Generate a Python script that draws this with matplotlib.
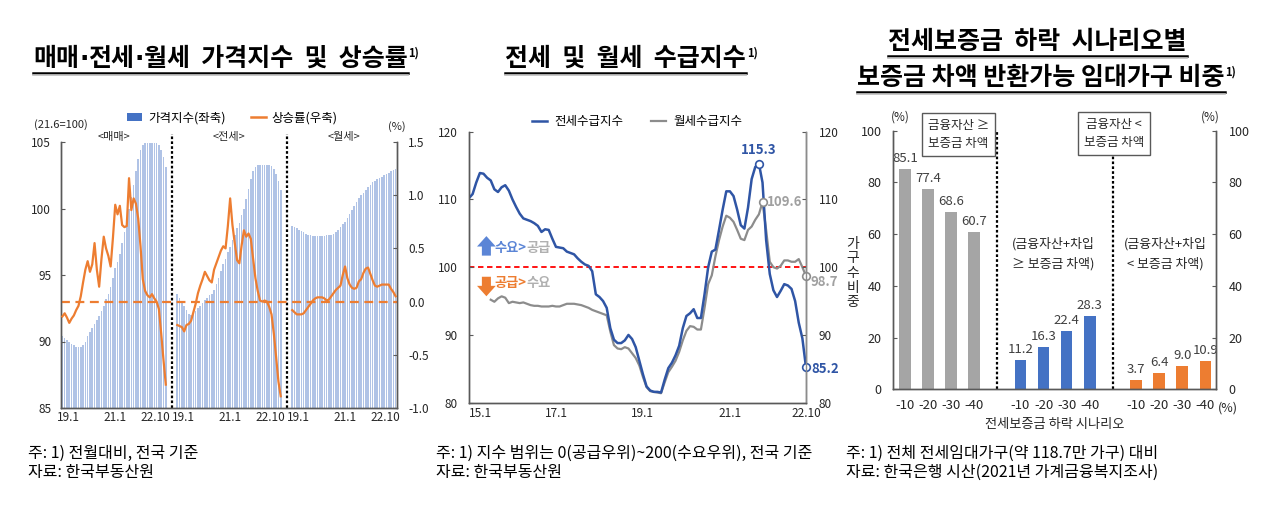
import numpy as np
import matplotlib
matplotlib.use('Agg')
import matplotlib.pyplot as plt
import matplotlib.transforms as mtransforms
from matplotlib.lines import Line2D
from matplotlib.patches import Patch
from matplotlib.ticker import FormatStrFormatter

plt.rcParams['font.family'] = ['Noto Sans CJK KR', 'DejaVu Sans']
plt.rcParams['axes.unicode_minus'] = False

# ---- panel 1 : 19.1 ~ 22.10 monthly, 21.6=100 ----
section_names = ['<매매>', '<전세>', '<월세>']
p1_tick_labels = ['19.1', '21.1', '22.10']
p1_tick_pos = [2.5, 23, 40.5]

sale_idx = [90.4, 90.3, 90.1, 90.0, 89.8, 89.7, 89.6, 89.6, 89.6, 89.7, 90.0, 90.4,
            90.7, 91.0, 91.3, 91.6, 91.9, 92.3, 92.7, 93.2, 93.6, 94.1, 94.8, 95.5,
            96.0, 96.6, 97.4, 98.2, 99.0, 100.0, 100.9, 101.8, 102.8, 103.7, 104.4, 104.8,
            104.9, 104.9, 104.9, 104.9, 104.9, 104.9, 104.8, 104.4, 103.9, 103.1]
sale_rate = [-0.14, -0.11, -0.15, -0.20, -0.16, -0.13, -0.08, -0.04, 0.05, 0.18, 0.30, 0.38,
             0.28, 0.35, 0.55, 0.30, 0.14, 0.40, 0.61, 0.50, 0.43, 0.33, 0.60, 0.91,
             0.82, 0.90, 0.72, 0.70, 0.71, 1.16, 0.86, 0.97, 0.92, 0.78, 0.52, 0.21,
             0.10, 0.06, 0.04, 0.07, 0.03, 0.00, -0.07, -0.30, -0.55, -0.78]
jeonse_idx = [93.6, 93.3, 93.0, 92.7, 92.4, 92.1, 92.0, 92.1, 92.3, 92.5, 92.7, 92.9,
              93.1, 93.3, 93.5, 93.6, 93.9, 94.3, 94.8, 95.3, 95.8, 96.2, 96.7, 97.1,
              97.6, 98.0, 98.5, 98.9, 99.5, 100.0, 100.7, 101.5, 102.2, 102.8, 103.1, 103.3,
              103.3, 103.3, 103.3, 103.3, 103.3, 103.2, 103.0, 102.6, 102.1, 101.4]
jeonse_rate = [-0.22, -0.23, -0.24, -0.28, -0.22, -0.21, -0.18, -0.10, -0.02, 0.08, 0.15, 0.21,
               0.28, 0.24, 0.20, 0.18, 0.30, 0.36, 0.42, 0.48, 0.52, 0.50, 0.71, 0.97,
               0.72, 0.55, 0.39, 0.36, 0.53, 0.67, 0.61, 0.64, 0.59, 0.40, 0.22, 0.10,
               0.01, 0.00, 0.01, 0.00, -0.05, -0.12, -0.30, -0.52, -0.75, -0.89]
wolse_idx = [98.7, 98.6, 98.5, 98.4, 98.3, 98.2, 98.1, 98.0, 98.0, 97.9, 97.9, 97.9,
             97.9, 97.9, 97.9, 98.0, 98.0, 98.0, 98.1, 98.2, 98.4, 98.6, 98.8, 99.0,
             99.3, 99.6, 99.9, 100.2, 100.5, 100.8, 101.0, 101.2, 101.4, 101.6, 101.8, 102.0,
             102.1, 102.2, 102.3, 102.4, 102.5, 102.6, 102.7, 102.8, 102.9, 103.0]
wolse_rate = [-0.08, -0.10, -0.12, -0.12, -0.12, -0.11, -0.08, -0.05, -0.02, 0.01, 0.03, 0.04,
              0.04, 0.04, 0.03, 0.01, 0.02, 0.05, 0.08, 0.11, 0.13, 0.15, 0.25, 0.33,
              0.22, 0.16, 0.13, 0.12, 0.13, 0.19, 0.21, 0.27, 0.31, 0.32, 0.26, 0.20,
              0.15, 0.14, 0.15, 0.16, 0.16, 0.16, 0.16, 0.12, 0.09, 0.05]

# ---- panel 2 : 15.1 ~ 22.10 monthly ----
p2_tick_labels = ['15.1', '17.1', '19.1', '21.1', '22.10']
p2_tick_pos = [0, 24, 48, 72, 93]
jeonse_sd = [110.2, 110.8, 112.5, 113.9, 113.8, 113.2, 112.8, 111.5, 111.1, 111.8, 112.1, 111.3,
             110.0, 108.9, 107.9, 107.2, 107.0, 106.8, 106.5, 106.1, 105.2, 105.6, 105.5, 104.2,
             103.0, 102.9, 102.8, 102.3, 102.1, 101.9, 101.3, 100.8, 100.4, 100.2, 99.4, 96.0,
             95.6, 95.0, 94.0, 91.0, 89.3, 88.8, 88.8, 89.2, 90.0, 89.4, 88.2, 86.2,
             84.2, 82.4, 81.8, 81.6, 81.6, 81.5, 83.4, 85.1, 85.9, 87.0, 88.4, 91.0,
             92.8, 93.2, 93.8, 92.5, 92.5, 96.0, 100.0, 102.3, 102.6, 105.5, 108.5, 111.2,
             111.2, 110.5, 108.5, 106.2, 105.7, 108.8, 113.0, 114.8, 115.3, 112.5, 104.0, 99.0,
             96.6, 95.6, 96.5, 97.5, 97.3, 96.8, 95.0, 91.8, 89.5, 85.2]
wolse_sd_start = 6
wolse_sd = [95.2, 94.9, 95.4, 95.7, 95.5, 94.7, 94.9, 94.8, 94.7, 94.8, 94.6, 94.4,
            94.3, 94.3, 94.2, 94.2, 94.2, 94.3, 94.2, 94.2, 94.4, 94.6, 94.6, 94.6,
            94.5, 94.4, 94.2, 94.0, 93.7, 93.5, 93.3, 93.1, 92.9, 90.5, 88.5, 88.0,
            87.9, 88.2, 88.0, 87.3, 86.6, 85.5, 83.8, 82.3, 81.7, 81.6, 81.5, 81.4,
            83.0, 84.5, 85.3, 86.2, 87.5, 89.2, 90.6, 91.3, 91.2, 90.8, 90.8, 94.0,
            97.5, 98.8, 101.6, 104.0, 106.0, 107.6, 107.3, 106.7, 105.5, 104.2, 104.0, 105.5,
            106.0, 107.0, 107.8, 109.6, 105.5, 100.8, 100.0, 99.8, 100.2, 101.0, 101.0, 100.8,
            100.8, 101.2, 100.0, 98.7]

# ---- panel 3 ----
scenario_labels = ['-10', '-20', '-30', '-40']
share_asset = [85.1, 77.4, 68.6, 60.7]
share_borrow = [11.2, 16.3, 22.4, 28.3]
share_short = [3.7, 6.4, 9.0, 10.9]

BLUE = '#4472C4'
ORANGE = '#ED7D31'
GRAY_BAR = '#A5A5A5'
LINE_BLUE = '#2F55A5'
LINE_GRAY = '#8C8C8C'
TXT = '#262626'
SPINE = '#595959'

W, H = 1280, 523
fig = plt.figure(figsize=(W / 100, H / 100), dpi=100)
renderer = fig.canvas.get_renderer()


def px_axes(left, top, right, bottom):
    return fig.add_axes([left / W, 1 - bottom / H, (right - left) / W, (bottom - top) / H])


def style_axes(ax):
    ax.spines['top'].set_visible(False)
    for s in ('left', 'right', 'bottom'):
        ax.spines[s].set_color(SPINE)
        ax.spines[s].set_linewidth(1.0)
    ax.tick_params(axis='both', direction='in', length=3, color=SPINE, labelcolor=TXT, labelsize=8.5)
    ax.tick_params(axis='x', length=0)


# ================= panel 1 =================
ax1 = px_axes(61, 142, 397, 408)
ax1r = ax1.twinx()
gap = 50
sections = [(sale_idx, sale_rate), (jeonse_idx, jeonse_rate), (wolse_idx, wolse_rate)]
xt, xl = [], []
for k, (idx, rate) in enumerate(sections):
    x = np.arange(len(idx)) + k * gap
    ax1.bar(x, idx, width=0.7, color=BLUE, alpha=0.42, linewidth=0)
    ax1r.plot(x, rate, color=ORANGE, lw=1.6, zorder=3)
    xt += [k * gap + p for p in p1_tick_pos]
    xl += p1_tick_labels
    ax1.text(k * gap + (len(idx) - 1) / 2, 1.017, section_names[k], ha='center', va='center',
             fontsize=8, color=TXT, transform=mtransforms.blended_transform_factory(ax1.transData, ax1.transAxes))
    if k > 0:
        ax1.axvline(k * gap - 2.3, ymin=0, ymax=1.03, color='black', ls=(0, (1.2, 1.0)), lw=1.6, clip_on=False)

ax1r.axhline(0, color=ORANGE, ls=(0, (4, 2.5)), lw=1.6)
ax1.set_xlim(-0.6, 145.6)
ax1.set_ylim(85, 105)
ax1.set_yticks([85, 90, 95, 100, 105])
ax1r.set_ylim(-1.0, 1.5)
ax1r.set_yticks([-1.0, -0.5, 0.0, 0.5, 1.0, 1.5])
ax1r.yaxis.set_major_formatter(FormatStrFormatter('%.1f'))
ax1.set_xticks(xt)
ax1.set_xticklabels(xl)
style_axes(ax1)
style_axes(ax1r)
ax1.tick_params(axis='y', pad=7)
ax1r.tick_params(axis='y', pad=8)
ax1.tick_params(axis='x', pad=2)

handles = [Patch(facecolor=BLUE, edgecolor='none'), Line2D([], [], color=ORANGE, lw=1.8)]
ax1r.legend(handles, ['가격지수(좌축)', '상승률(우축)'], loc='center', bbox_to_anchor=(0.51, 1.09),
            ncol=2, frameon=False, fontsize=9, handlelength=1.2, handleheight=0.6,
            columnspacing=2.0, handletextpad=0.5)
fig.text(61 / W, 1 - 125 / H, '(21.6=100)', ha='center', va='center', fontsize=8, color=TXT)
fig.text(397 / W, 1 - 127 / H, '(%)', ha='center', va='center', fontsize=8, color=TXT)

# ================= panel 2 =================
ax2 = px_axes(469, 131.7, 806, 402.7)
ax2r = ax2.twinx()
xs_j = np.arange(len(jeonse_sd))
xs_w = np.arange(len(wolse_sd)) + wolse_sd_start
ax2.axhline(100, color='#FF0000', ls=(0, (3, 2)), lw=1.3, zorder=1)
ax2.plot(xs_w, wolse_sd, color=LINE_GRAY, lw=1.6, zorder=2, label='월세수급지수')
ax2.plot(xs_j, jeonse_sd, color=LINE_BLUE, lw=1.8, zorder=3, label='전세수급지수')

pk = int(np.argmax(jeonse_sd))
pw = int(np.argmax(wolse_sd))
mk = dict(marker='o', mfc='white', ms=5.5, mew=1.2, ls='none', zorder=4, clip_on=False)
ax2.plot(xs_j[pk], jeonse_sd[pk], mec=LINE_BLUE, **mk)
ax2.plot(xs_j[-1], jeonse_sd[-1], mec=LINE_BLUE, **mk)
ax2.plot(xs_w[pw], wolse_sd[pw], mec=LINE_GRAY, **mk)
ax2.plot(xs_w[-1], wolse_sd[-1], mec=LINE_GRAY, **mk)
lab = dict(fontsize=9.5, fontweight='bold', annotation_clip=False)
ax2.annotate(f'{jeonse_sd[pk]:.1f}', (xs_j[pk], jeonse_sd[pk]), xytext=(0, 9.5), textcoords='offset points',
             ha='center', va='center', color=LINE_BLUE, **lab)
ax2.annotate(f'{jeonse_sd[-1]:.1f}', (xs_j[-1], jeonse_sd[-1]), xytext=(4, -1), textcoords='offset points',
             ha='left', va='center', color=LINE_BLUE, **lab)
ax2.annotate(f'{wolse_sd[pw]:.1f}', (xs_w[pw], wolse_sd[pw]), xytext=(3, 0), textcoords='offset points',
             ha='left', va='center', color='#A0A0A0', **lab)
ax2.annotate(f'{wolse_sd[-1]:.1f}', (xs_w[-1], wolse_sd[-1]), xytext=(3, -4.5), textcoords='offset points',
             ha='left', va='center', color='#A0A0A0', **lab)

arrow_style = 'simple,head_length=0.75,head_width=1.35,tail_width=0.65'
ax2.annotate('', xy=(4.8, 105.0), xytext=(4.8, 101.3),
             arrowprops=dict(arrowstyle=arrow_style, color='#5B85D6', lw=0))
ax2.annotate('', xy=(4.8, 95.3), xytext=(4.8, 99.0),
             arrowprops=dict(arrowstyle=arrow_style, color=ORANGE, lw=0))
t1 = ax2.text(7.0, 102.8, '수요>', color='#5B85D6', ha='left', va='center', fontsize=9.5, fontweight='bold')
ax2.annotate('공급', xy=(1, 0.5), xycoords=t1, ha='left', va='center', color='#B0B0B0',
             fontsize=9.5, fontweight='bold')
t2 = ax2.text(7.0, 97.6, '공급>', color=ORANGE, ha='left', va='center', fontsize=9.5, fontweight='bold')
ax2.annotate('수요', xy=(1, 0.5), xycoords=t2, ha='left', va='center', color='#B0B0B0',
             fontsize=9.5, fontweight='bold')

for a in (ax2, ax2r):
    a.set_ylim(80, 120)
    a.set_yticks([80, 90, 100, 110, 120])
ax2.set_xlim(0, 93)
ax2.set_xticks(p2_tick_pos)
ax2.set_xticklabels(p2_tick_labels)
style_axes(ax2)
style_axes(ax2r)
ax2r.spines['right'].set_color('#8C8C8C')
ax2.tick_params(axis='y', pad=8)
ax2r.tick_params(axis='y', pad=9)
ax2.tick_params(axis='x', pad=3)
ax2.get_xticklabels()[0].set_ha('left')
h, l = ax2.get_legend_handles_labels()
ax2.legend(h[::-1], l[::-1], loc='center', bbox_to_anchor=(0.5, 1.037), ncol=2, frameon=False,
           fontsize=9, handlelength=1.2, columnspacing=2.2, handletextpad=0.6)

# ================= panel 3 =================
ax3 = px_axes(892.7, 130.7, 1216, 389.3)
ax3r = ax3.twinx()
groups = [share_asset, share_borrow, share_short]
group_colors = [GRAY_BAR, BLUE, ORANGE]
xt3, xl3 = [], []
for g, (vals, col) in enumerate(zip(groups, group_colors)):
    x = np.arange(len(vals)) + g * 5
    bars = ax3.bar(x, vals, width=0.5, color=col, linewidth=0)
    ax3.bar_label(bars, labels=[f'{v:.1f}' for v in vals], padding=3, fontsize=9.5, color='#404040')
    xt3 += list(x)
    xl3 += scenario_labels

ax3.vlines(4, 0, 100, color='black', ls=(0, (1.2, 1.0)), lw=1.6)
ax3.vlines(9, 0, 90.5, color='black', ls=(0, (1.2, 1.0)), lw=1.6)
box = dict(boxstyle='square,pad=0.45', fc='white', ec='#595959', lw=1)
ax3.text(2.32, 98.6, '금융자산 ≥\n보증금 차액', ha='center', va='center', fontsize=9, color=TXT,
         linespacing=1.55, bbox=box, clip_on=False)
ax3.text(9.04, 99.0, '금융자산 <\n보증금 차액', ha='center', va='center', fontsize=9, color=TXT,
         linespacing=1.55, bbox=box, clip_on=False)
ax3.text(6.42, 52.3, '(금융자산+차입\n≥ 보증금 차액)', ha='center', va='center', fontsize=9.3, color=TXT,
         linespacing=1.6)
ax3.text(11.26, 52.3, '(금융자산+차입\n< 보증금 차액)', ha='center', va='center', fontsize=9.3, color=TXT,
         linespacing=1.6)

for a in (ax3, ax3r):
    a.set_ylim(0, 100)
    a.set_yticks([0, 20, 40, 60, 80, 100])
ax3.set_xlim(-0.53, 13.46)
ax3.set_xticks(xt3)
ax3.set_xticklabels(xl3)
style_axes(ax3)
style_axes(ax3r)
for a in (ax3, ax3r):
    a.tick_params(axis='y', labelsize=9)
ax3.tick_params(axis='x', labelsize=9.5, pad=7)
ax3.tick_params(axis='y', pad=8)
ax3r.tick_params(axis='y', pad=9)
ax3.set_xlabel('전세보증금 하락 시나리오', fontsize=9.5, color=TXT, labelpad=4)
fig.text(1228 / W, 1 - 408 / H, '(%)', ha='center', va='center', fontsize=9, color=TXT)
fig.text(900 / W, 1 - 117 / H, '(%)', ha='center', va='center', fontsize=8.5, color=TXT)
fig.text(1210 / W, 1 - 117 / H, '(%)', ha='center', va='center', fontsize=8.5, color=TXT)
fig.text(853 / W, 1 - 273 / H, '가\n구\n수\n비\n중', ha='center', va='center', fontsize=10,
         color=TXT, linespacing=1.05)

# ================= titles and notes =================
# (left px, baseline px, pieces, superscript)
titles = [
    (33, 66, ['매매', '·', '전세', '·', '월세  가격지수  및  상승률'], True),
    (505, 66, ['전세  및  월세  수급지수'], True),
    (888, 49, ['전세보증금  하락  시나리오별'], False),
    (857, 85, ['보증금 차액 반환가능 임대가구 비중'], True),
]
for left, base, pieces, sup in titles:
    xpx = left
    x0 = None
    for s in pieces:
        fam = ['DejaVu Sans'] if s == '·' else ['Noto Sans CJK KR', 'DejaVu Sans']
        t = fig.text(xpx / W, 1 - base / H, s, ha='left', va='baseline', fontsize=18,
                     fontweight='bold', family=fam, color='black')
        bb = t.get_window_extent(renderer)
        x0 = bb.x0 if x0 is None else x0
        xpx = bb.x1
    if sup:
        fig.text((xpx + 1) / W, 1 - (base - 9) / H, '1)', ha='left', va='baseline', fontsize=8,
                 fontweight='bold', color='black')
    uy = 1 - (base + 7) / H
    fig.add_artist(Line2D([x0 / W, xpx / W], [uy, uy], transform=fig.transFigure, color='black', lw=1.8))
    fig.add_artist(Line2D([x0 / W, xpx / W], [uy - 2 / H, uy - 2 / H], transform=fig.transFigure,
                          color='#BFBFBF', lw=1.2))

notes = [
    (28, '주: 1) 전월대비, 전국 기준', '자료: 한국부동산원'),
    (436, '주: 1) 지수 범위는 0(공급우위)~200(수요우위), 전국 기준', '자료: 한국부동산원'),
    (846, '주: 1) 전체 전세임대가구(약 118.7만 가구) 대비', '자료: 한국은행 시산(2021년 가계금융복지조사)'),
]
for x, n1, n2 in notes:
    fig.text(x / W, 1 - 453 / H, n1, ha='left', va='center', fontsize=11.5, color='black')
    fig.text(x / W, 1 - 472 / H, n2, ha='left', va='center', fontsize=11.5, color='black')

fig.savefig('out.png', dpi=100)
